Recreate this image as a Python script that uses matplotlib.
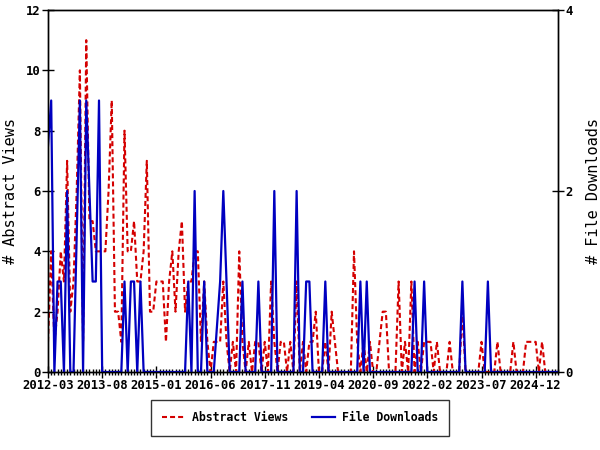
import matplotlib
matplotlib.use("Agg")
import matplotlib.pyplot as plt
from matplotlib.lines import Line2D
import pandas as pd

plt.rcParams['lines.scale_dashes'] = False

# Monthly abstract views (left axis), starting 2012-03
views = [1, 4, 1, 2, 4, 3, 7, 2, 3, 6, 10, 1, 11, 5, 5, 4, 4, 4, 4, 6,
         9, 2, 2, 1, 8, 4, 4, 5, 3, 3, 4, 7, 2, 2, 3, 3, 3, 1, 3, 4,
         2, 4, 5, 2, 3, 3, 4, 4, 1, 3, 1, 0, 1, 1, 1, 3, 1, 0, 1, 0,
         4, 1, 0, 1, 0, 1, 1, 0, 1, 0, 3, 1, 0, 1, 1, 0, 1, 0, 3, 0,
         1, 0, 1, 1, 2, 0, 0, 1, 0, 2, 1, 0, 0, 0, 0, 0, 4, 1, 0, 1,
         0, 1, 0, 0, 1, 2, 2, 0, 0, 0, 3, 0, 1, 0, 3, 0, 1, 0, 1, 1,
         1, 0, 1, 0, 0, 0, 1, 0, 0, 0, 2, 0, 0, 0, 0, 0, 1, 0, 0, 0,
         0, 1, 0, 0, 0, 0, 1, 0, 0, 0, 1, 1, 1, 1, 0, 1, 0, 0, 0, 0, 0]

# Monthly file downloads (right axis)
downloads = [2.5, 3, 0, 1, 1, 0, 2, 0, 0, 1.5, 3, 0, 3, 2, 1, 1, 3, 0, 0, 0,
             0, 0, 0, 0, 1, 0, 1, 1, 0, 1, 0, 0, 0, 0, 0, 0, 0, 0, 0, 0,
             0, 0, 0, 0, 1, 0, 2, 0, 0, 1, 0, 0, 0, 0.5, 1, 2, 1, 0, 0, 0,
             0, 1, 0, 0, 0, 0, 1, 0, 0, 0, 0, 2, 0, 0, 0, 0, 0, 0, 2, 0,
             0, 1, 1, 0, 0, 0, 0, 1, 0, 0, 0, 0, 0, 0, 0, 0, 0, 0, 1, 0,
             1, 0, 0, 0, 0, 0, 0, 0, 0, 0, 0, 0, 0, 0, 0, 1, 0, 0, 1, 0,
             0, 0, 0, 0, 0, 0, 0, 0, 0, 0, 1, 0, 0, 0, 0, 0, 0, 0, 1, 0,
             0, 0, 0, 0, 0, 0, 0, 0, 0, 0, 0, 0, 0, 0, 0, 0, 0, 0, 0, 0, 0]

tick_labels = ["2012-03", "2013-08", "2015-01", "2016-06", "2017-11",
               "2019-04", "2020-09", "2022-02", "2023-07", "2024-12"]

months = pd.period_range("2012-03", periods=len(views), freq="M")
month_str = [str(m) for m in months]
x = list(range(len(views)))
tick_pos = [month_str.index(t) for t in tick_labels]

RED = "#d40000"
BLUE = "#0000c0"
mono = "DejaVu Sans Mono"

fig = plt.figure(figsize=(6, 4.5), dpi=100)
ax = fig.add_axes([0.08, 0.1733, 0.85, 0.8045])
ax2 = ax.twinx()

ax.plot(x, views, color=RED, lw=1.5, dashes=(3.6, 2.2))
ax2.plot(x, downloads, color=BLUE, lw=1.6)

ax.set_xlim(0, len(views) - 1)
ax.set_ylim(0, 12)
ax2.set_ylim(0, 4)
ax.set_yticks(range(0, 13, 2))
ax2.set_yticks([0, 2, 4])

ax.set_xticks(tick_pos)
ax.set_xticklabels(tick_labels)
ax.set_xticks(x, minor=True)

for a in (ax, ax2):
    for s in a.spines.values():
        s.set_linewidth(1.0)
        s.set_color("black")
    a.tick_params(axis="both", which="major", direction="inout", length=8, width=1,
                  labelsize=8.8, pad=1)
    a.tick_params(axis="x", which="minor", direction="inout", length=5, width=1)
    for lab in a.get_xticklabels() + a.get_yticklabels():
        lab.set_fontfamily(mono)
        lab.set_fontweight("bold")

ax.set_ylabel("# Abstract Views", fontfamily=mono, fontsize=11, labelpad=6)
ax2.set_ylabel("# File Downloads", fontfamily=mono, fontsize=11, labelpad=10)

handles = [Line2D([], [], color=RED, lw=1.5, dashes=(3.6, 2.2)),
           Line2D([], [], color=BLUE, lw=1.6)]
leg = fig.legend(handles, ["Abstract Views", "File Downloads"], loc="center",
                 bbox_to_anchor=(0.5, 0.072), ncol=2, frameon=True, fancybox=False,
                 edgecolor="black", borderpad=1.0, columnspacing=2.0,
                 handlelength=2.0, handletextpad=0.6,
                 prop={"family": mono, "weight": "bold", "size": 8.3})
leg.get_frame().set_linewidth(1.0)

fig.savefig("out.png", dpi=100)
